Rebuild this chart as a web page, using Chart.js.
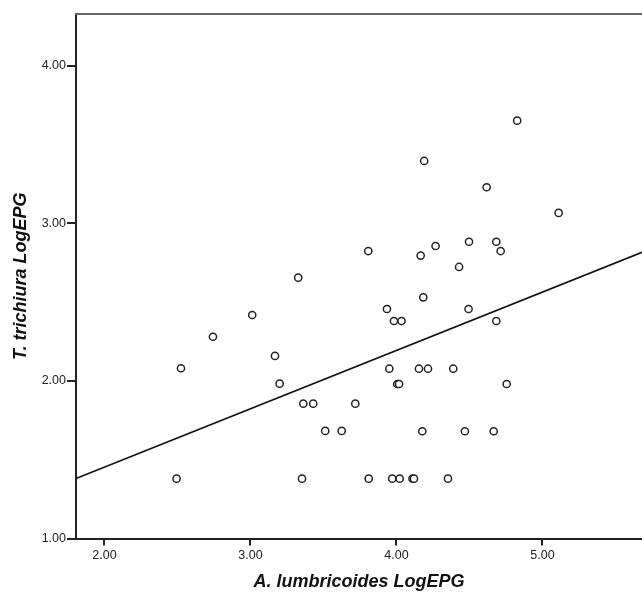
<!DOCTYPE html>
<html>
<head>
<meta charset="utf-8">
<script src="https://cdn.jsdelivr.net/npm/chart.js@4/dist/chart.umd.min.js"></script>
<style>
  html, body { margin: 0; padding: 0; background: #fff; }
  #wrap { width: 642px; height: 592px; }
</style>
</head>
<body>
<div id="wrap"><canvas id="scatter" width="642" height="592"></canvas></div>
<script>
// A. lumbricoides LogEPG (x) vs T. trichiura LogEPG (y)
const alumX = [
  3.327, 4.827, 4.190, 4.618, 5.111, 3.807, 4.166, 4.268, 4.497, 4.684,
  4.714, 4.429, 4.184, 3.012, 2.743, 2.524, 3.168, 3.200, 3.362, 3.430,
  3.718, 3.512, 3.625, 2.494, 3.353, 3.810, 3.935, 3.983, 4.035, 4.494,
  4.684, 3.951, 4.154, 4.216, 4.389, 4.005, 4.018, 4.755, 4.177, 4.469,
  4.666, 3.971, 4.022, 4.110, 4.120, 4.353
];
const ttriY = [
  2.656, 3.653, 3.397, 3.230, 3.067, 2.825, 2.796, 2.857, 2.884, 2.884,
  2.825, 2.724, 2.531, 2.419, 2.281, 2.081, 2.159, 1.983, 1.856, 1.856,
  1.856, 1.683, 1.683, 1.380, 1.380, 1.380, 2.457, 2.381, 2.381, 2.457,
  2.381, 2.078, 2.078, 2.078, 2.078, 1.981, 1.981, 1.981, 1.681, 1.681,
  1.681, 1.380, 1.380, 1.380, 1.380, 1.380
];

// fit line end points (at the plot edges)
const fitX = [1.805, 5.682];
const fitY = [1.381, 2.817];

const xTicks = [2, 3, 4, 5];
const yTicks = [1, 2, 3, 4];

const xRange = { min: 1.805, max: 5.682 };
const yRange = { min: 1.0, max: 4.33 };

// SPSS-style frame: top edge of the plot box
const topBorder = {
  id: 'topBorder',
  afterDraw(chart) {
    const { ctx, chartArea } = chart;
    ctx.save();
    ctx.strokeStyle = '#666';
    ctx.lineWidth = 2;
    ctx.beginPath();
    ctx.moveTo(chartArea.left - 1, chartArea.top);
    ctx.lineTo(chart.width, chartArea.top);
    ctx.stroke();
    ctx.restore();
  }
};

const tickFont = { family: 'Liberation Sans, Arial, sans-serif', size: 12.5 };
const titleFont = { family: 'Liberation Sans, Arial, sans-serif', size: 18, weight: 'bold', style: 'italic', lineHeight: 1 };

new Chart(document.getElementById('scatter'), {
  type: 'scatter',
  data: {
    datasets: [
      {
        label: 'cases',
        data: alumX.map((x, i) => ({ x, y: ttriY[i] })),
        pointRadius: 3.6,
        pointBorderWidth: 1.5,
        pointBorderColor: '#222',
        pointBackgroundColor: '#fff',
        order: 1,
      },
      {
        label: 'fit',
        type: 'line',
        data: fitX.map((x, i) => ({ x, y: fitY[i] })),
        borderColor: '#111',
        borderWidth: 1.6,
        pointRadius: 0,
        fill: false,
        order: 2,
      },
    ],
  },
  options: {
    responsive: false,
    animation: false,
    clip: false,
    layout: { autoPadding: false, padding: { top: 14, right: 0, left: 0, bottom: 0 } },
    plugins: { legend: { display: false }, tooltip: { enabled: false } },
    scales: {
      x: {
        type: 'linear',
        min: xRange.min,
        max: xRange.max,
        afterBuildTicks: s => { s.ticks = xTicks.map(v => ({ value: v })); },
        afterFit: s => { s.height = 53.5; s.paddingLeft = 0; s.paddingRight = 0; },
        border: { display: true, color: '#222', width: 2 },
        grid: { drawOnChartArea: false, drawTicks: true, tickLength: 7, color: '#222', lineWidth: 2 },
        ticks: { color: '#222', font: tickFont, padding: 3, maxRotation: 0, callback: v => v.toFixed(2) },
        title: { display: true, text: 'A. lumbricoides LogEPG', color: '#111', font: titleFont, padding: { top: 0, bottom: 1 } },
      },
      y: {
        type: 'linear',
        min: yRange.min,
        max: yRange.max,
        afterBuildTicks: s => { s.ticks = yTicks.map(v => ({ value: v })); },
        afterFit: s => { s.width = 76; s.paddingTop = 0; s.paddingBottom = 0; },
        border: { display: true, color: '#222', width: 2 },
        grid: { drawOnChartArea: false, drawTicks: true, tickLength: 9, color: '#222', lineWidth: 2 },
        ticks: { color: '#222', font: tickFont, padding: 1, callback: v => v.toFixed(2) },
        title: { display: true, text: 'T. trichiura LogEPG', color: '#111', font: titleFont, padding: { top: 12, bottom: 0 } },
      },
    },
  },
  plugins: [topBorder],
});
</script>
</body>
</html>
